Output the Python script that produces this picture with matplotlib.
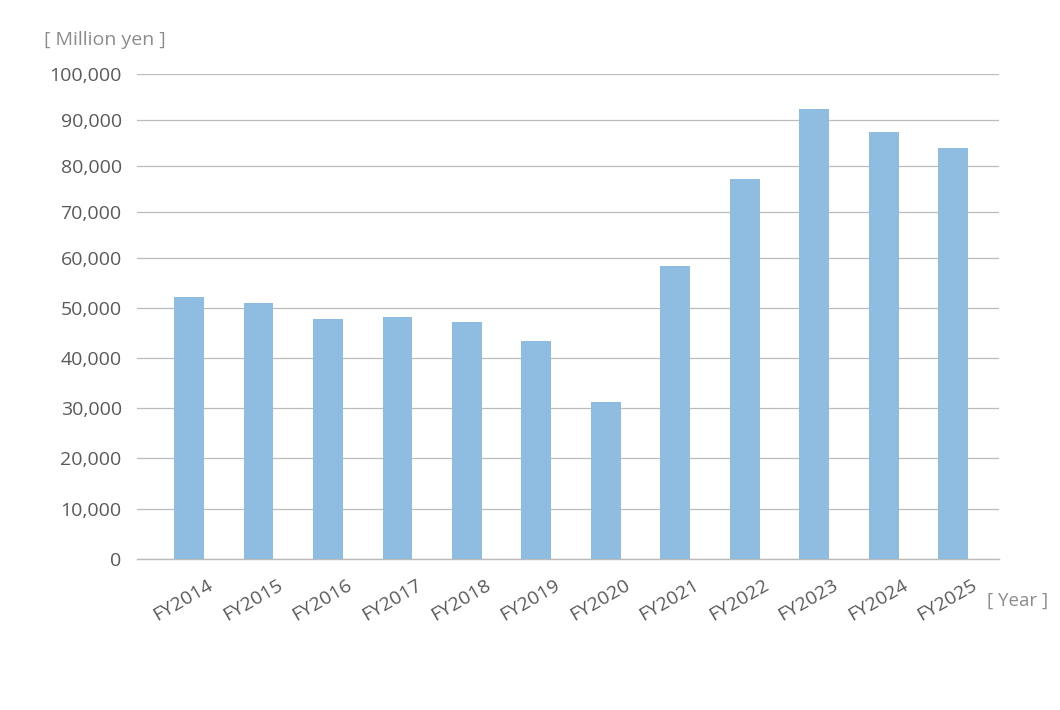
import numpy as np
import matplotlib
matplotlib.use("Agg")
import matplotlib.pyplot as plt
import matplotlib.transforms as mtransforms
from matplotlib.ticker import FuncFormatter, NullLocator

years = ["FY2014", "FY2015", "FY2016", "FY2017", "FY2018", "FY2019",
         "FY2020", "FY2021", "FY2022", "FY2023", "FY2024", "FY2025"]
values = [52200, 51000, 47700, 48100, 47200, 43300,
          31200, 58300, 77200, 92400, 87400, 83900]
y_ticks = [0, 10000, 20000, 30000, 40000, 50000,
           60000, 70000, 80000, 90000, 100000]

# the source axis is not evenly spaced: upper bands are a bit tighter
band_px = [0, 50.2, 100.4, 150.6, 200.8, 251.0, 300.7, 346.7, 392.7, 438.7, 484.7]

BAR_COLOR = "#8fbde2"
GRID_COLOR = "#bcbcbc"
TEXT_COLOR = "#5a5a5a"
UNIT_COLOR = "#8c8c8c"

plt.rcParams["font.family"] = ["Open Sans", "DejaVu Sans"]


def forward(v):
    return np.interp(v, y_ticks, band_px)


def inverse(p):
    return np.interp(p, band_px, y_ticks)


fig = plt.figure(figsize=(10.6, 7.1), dpi=100)
ax = fig.add_axes([137 / 1060, 1 - 558.7 / 710, (999 - 137) / 1060, (558.7 - 74) / 710])

ax.set_yscale("function", functions=(forward, inverse))
x = np.arange(len(years))
ax.bar(x, values, width=0.43, color=BAR_COLOR, zorder=2)

ax.set_ylim(0, 100000)
ax.set_xlim(-0.75, 11.66)
ax.set_yticks(y_ticks)
ax.yaxis.set_major_formatter(FuncFormatter(lambda v, _: f"{int(v):,}"))
ax.yaxis.set_minor_locator(NullLocator())
ax.grid(axis="y", color=GRID_COLOR, linewidth=0.9, zorder=0)
ax.set_axisbelow(True)
# baseline sits on the axes edge, keep it from being clipped
ax.axhline(0, color=GRID_COLOR, linewidth=1.0, clip_on=False, zorder=1)

for side in ["top", "right", "left", "bottom"]:
    ax.spines[side].set_visible(False)

ax.tick_params(axis="y", length=0, pad=11, labelsize=14, labelcolor=TEXT_COLOR)
ax.tick_params(axis="x", length=0, pad=10, labelsize=14, labelcolor=TEXT_COLOR)
ax.set_xticks(x)
ax.set_xticklabels(years, rotation=30, ha="right", rotation_mode="anchor")
offset = mtransforms.ScaledTranslation(18 / 100, -3 / 100, fig.dpi_scale_trans)
for lbl in ax.get_xticklabels():
    lbl.set_transform(lbl.get_transform() + offset)

fig.text(44 / 1060, 1 - 40 / 710, "[ Million yen ]", color=UNIT_COLOR,
         fontsize=14, ha="left", va="center")
fig.text(987 / 1060, 1 - 601 / 710, "[ Year ]", color=UNIT_COLOR,
         fontsize=13.5, ha="left", va="center")

fig.savefig("out.png", dpi=100, facecolor="white")
